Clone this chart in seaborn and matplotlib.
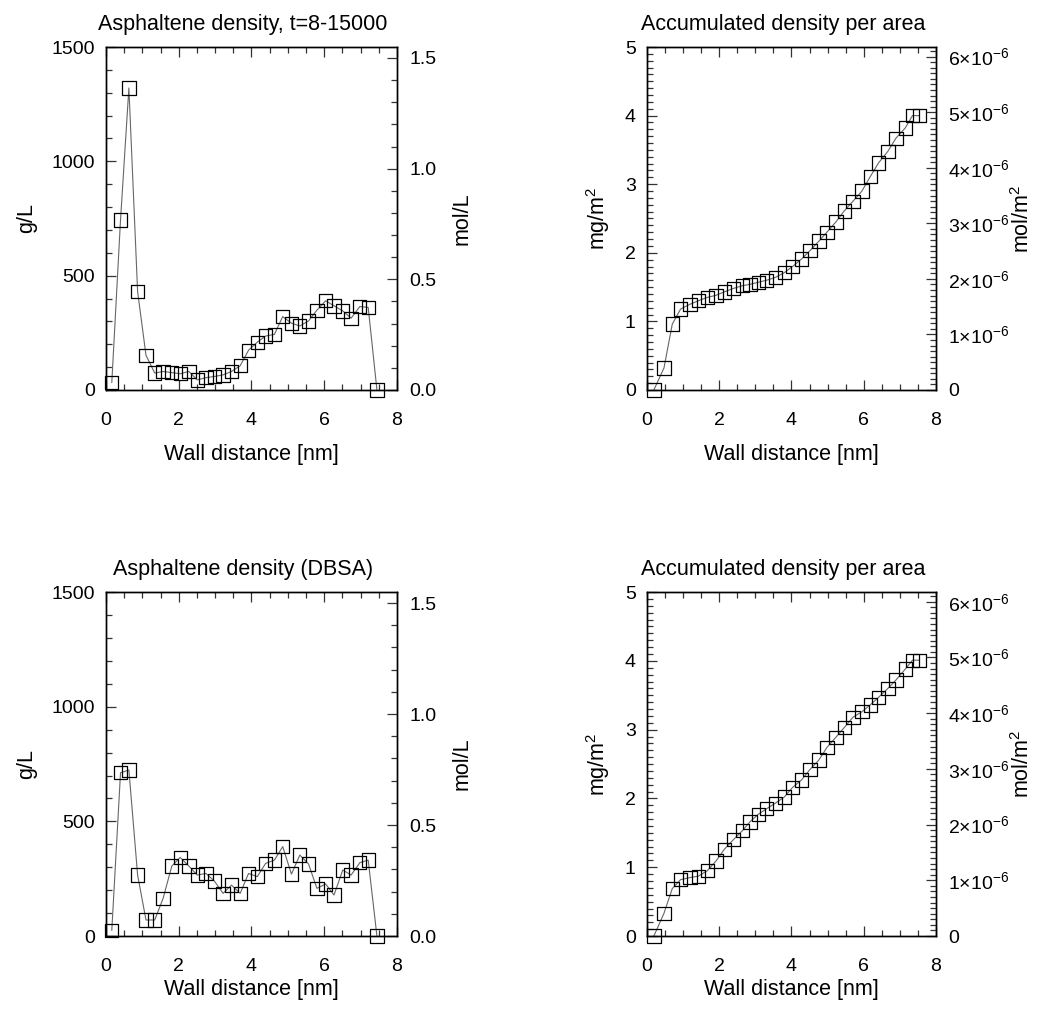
import numpy as np
import pandas as pd
import seaborn as sns
import matplotlib
matplotlib.use("Agg")
import matplotlib.pyplot as plt
from matplotlib.ticker import MultipleLocator, FixedLocator

# wall distance of the bins [nm]
x_dens = [0.16, 0.40, 0.63, 0.87, 1.10, 1.34, 1.57, 1.81, 2.04, 2.28, 2.51, 2.75,
          2.98, 3.22, 3.45, 3.69, 3.92, 4.16, 4.39, 4.63, 4.86, 5.10, 5.33, 5.57,
          5.80, 6.04, 6.27, 6.51, 6.74, 6.98, 7.21, 7.45]
x_cum = [0.19, 0.47, 0.70, 0.93, 1.19, 1.42, 1.67, 1.91, 2.14, 2.39, 2.64, 2.85,
         3.08, 3.31, 3.55, 3.80, 4.03, 4.28, 4.51, 4.76, 4.98, 5.23, 5.46, 5.70,
         5.95, 6.18, 6.41, 6.67, 6.89, 7.15, 7.35, 7.54]

# density [g/L], t=8-15000
dens_t = [32, 744, 1321, 430, 152, 74, 81, 76, 71, 81, 44, 54,
          59, 66, 81, 106, 174, 209, 236, 243, 321, 292, 280, 302,
          349, 390, 368, 346, 314, 365, 361, 0]
# accumulated [mg/m^2], t=8-15000
cum_t = [0.0, 0.32, 0.96, 1.18, 1.25, 1.30, 1.35, 1.38, 1.43, 1.48, 1.52, 1.54,
         1.57, 1.60, 1.64, 1.71, 1.80, 1.91, 2.03, 2.17, 2.30, 2.45, 2.61, 2.75,
         2.90, 3.11, 3.31, 3.48, 3.67, 3.82, 4.00, 4.00]
# density [g/L], DBSA
dens_dbsa = [25, 712, 724, 266, 70, 70, 164, 305, 343, 305, 266, 273,
             240, 186, 222, 186, 273, 259, 317, 331, 390, 270, 353, 314,
             208, 227, 179, 288, 266, 320, 331, 0]
# accumulated [mg/m^2], DBSA
cum_dbsa = [0.0, 0.33, 0.69, 0.82, 0.85, 0.87, 0.95, 1.09, 1.26, 1.40, 1.53, 1.66,
            1.77, 1.85, 1.93, 2.02, 2.16, 2.27, 2.42, 2.56, 2.74, 2.89, 3.03, 3.18,
            3.26, 3.36, 3.47, 3.60, 3.72, 3.88, 4.01, 4.01]

titles = ["Asphaltene density, t=8-15000", "Accumulated density per area",
          "Asphaltene density (DBSA)", "Accumulated density per area"]

MW_VOL = 968.0   # g/mol used for the g/L -> mol/L axis
MW_AREA = 810.0  # g/mol used for the mg/m2 -> mol/m2 axis

sns.set_style("ticks")
plt.rcParams['font.family'] = ['Liberation Sans', 'DejaVu Sans']
plt.rcParams['mathtext.fontset'] = 'custom'
plt.rcParams['mathtext.rm'] = 'Liberation Sans'
plt.rcParams['mathtext.it'] = 'Liberation Sans'
plt.rcParams['mathtext.default'] = 'regular'
plt.rcParams['text.color'] = 'black'
plt.rcParams['axes.labelcolor'] = 'black'
plt.rcParams['xtick.color'] = 'black'
plt.rcParams['ytick.color'] = 'black'

TICK_FS = 14
LABEL_FS = 15.5
TITLE_FS = 15.5

fig = plt.figure(figsize=(10.41, 10.09), dpi=100)
positions = [[0.1018, 0.6135, 0.2795, 0.3399],
             [0.6215, 0.6135, 0.2776, 0.3399],
             [0.1018, 0.0723, 0.2795, 0.3409],
             [0.6215, 0.0723, 0.2776, 0.3409]]


def style_axis(ax):
    for s in ax.spines.values():
        s.set_linewidth(1.0)
        s.set_color('black')
    ax.tick_params(which='both', direction='in', labelsize=TICK_FS, width=0.9,
                   color='0.2', labelcolor='black')
    ax.tick_params(which='major', length=7)
    ax.tick_params(which='minor', length=4)


def draw_panel(pos, x, y, title, density, xlabelpad):
    ax = fig.add_axes(pos)
    df = pd.DataFrame({"x": x, "y": y})
    sns.lineplot(data=df, x="x", y="y", ax=ax, color='0.4', lw=0.8,
                 sort=False, estimator=None)
    sns.scatterplot(data=df, x="x", y="y", ax=ax, marker='s', s=92,
                    facecolor='none', edgecolor='black', linewidth=0.9,
                    clip_on=False, zorder=3)
    ax.set_xlim(0, 8)
    ax.xaxis.set_major_locator(MultipleLocator(2))
    ax.xaxis.set_minor_locator(MultipleLocator(0.5))
    ax.set_xlabel("Wall distance [nm]", fontsize=LABEL_FS, labelpad=xlabelpad)
    ax.set_title(title, fontsize=TITLE_FS, pad=12, x=0.47)

    ax2 = ax.twinx()
    if density:
        ax.set_ylim(0, 1500)
        ax.yaxis.set_major_locator(MultipleLocator(500))
        ax.yaxis.set_minor_locator(MultipleLocator(100))
        ax.set_ylabel("g/L", fontsize=LABEL_FS, labelpad=10)
        ax2.set_ylim(0, 1500 / MW_VOL)
        ax2.yaxis.set_major_locator(FixedLocator([0.0, 0.5, 1.0, 1.5]))
        ax2.set_yticklabels(["0.0", "0.5", "1.0", "1.5"])
        ax2.yaxis.set_minor_locator(MultipleLocator(0.1))
        ax2.set_ylabel("mol/L", fontsize=LABEL_FS, labelpad=11)
    else:
        ax.set_ylim(0, 5)
        ax.yaxis.set_major_locator(MultipleLocator(1))
        ax.yaxis.set_minor_locator(MultipleLocator(0.1))
        ax.set_ylabel("mg/m$^2$", fontsize=LABEL_FS, labelpad=9)
        ax2.set_ylim(0, 5e-3 / MW_AREA)
        ticks = [k * 1e-6 for k in range(7)]
        ax2.yaxis.set_major_locator(FixedLocator(ticks))
        ax2.set_yticklabels(["0"] + ["%d×10$^{-6}$" % k for k in range(1, 7)])
        ax2.yaxis.set_minor_locator(MultipleLocator(1e-7))
        ax2.set_ylabel("mol/m$^2$", fontsize=LABEL_FS, labelpad=1)

    style_axis(ax)
    style_axis(ax2)
    ax.tick_params(axis='x', which='both', top=True, pad=16)
    ax.tick_params(axis='y', pad=8)
    ax2.tick_params(axis='y', pad=9)
    return ax


draw_panel(positions[0], x_dens, dens_t, titles[0], True, 11)
draw_panel(positions[1], x_cum, cum_t, titles[1], False, 11)
draw_panel(positions[2], x_dens, dens_dbsa, titles[2], True, 3)
draw_panel(positions[3], x_cum, cum_dbsa, titles[3], False, 3)

fig.savefig("out.png", dpi=100)
